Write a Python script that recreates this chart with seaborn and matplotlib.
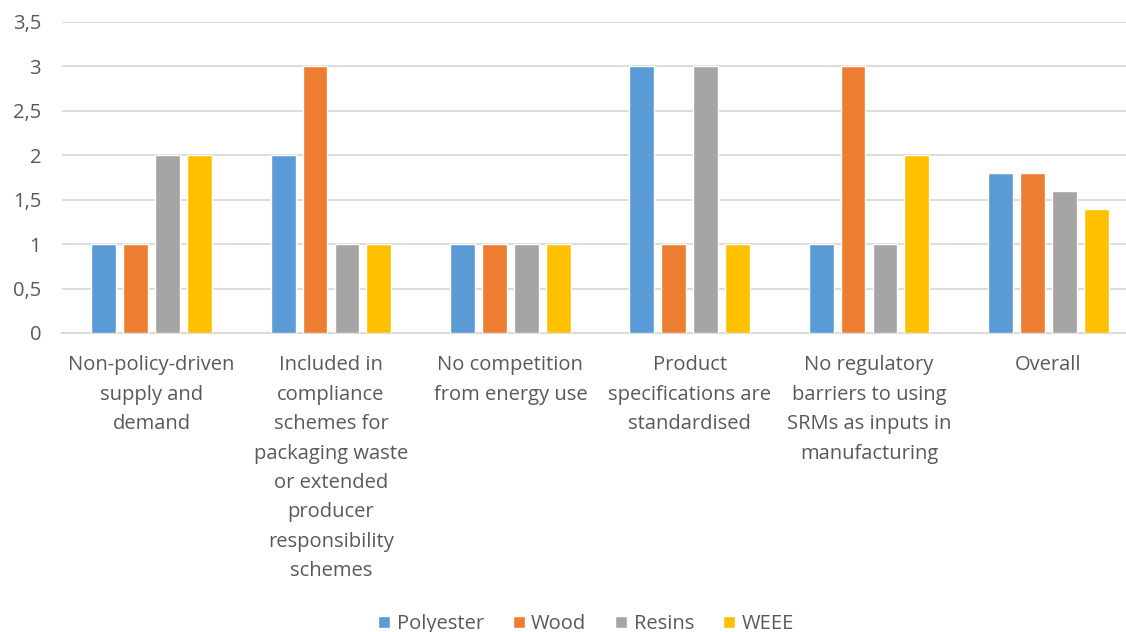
import matplotlib
matplotlib.use("Agg")
import matplotlib.pyplot as plt
import seaborn as sns
import pandas as pd

categories = [
    "Non-policy-driven\nsupply and\ndemand",
    "Included in\ncompliance\nschemes for\npackaging waste\nor extended\nproducer\nresponsibility\nschemes",
    "No competition\nfrom energy use",
    "Product\nspecifications are\nstandardised",
    "No regulatory\nbarriers to using\nSRMs as inputs in\nmanufacturing",
    "Overall",
]
series = ["Polyester", "Wood", "Resins", "WEEE"]
polyester = [1, 2, 1, 3, 1, 1.8]
wood = [1, 3, 1, 1, 3, 1.8]
resins = [2, 1, 1, 3, 1, 1.6]
weee = [2, 1, 1, 1, 2, 1.4]
y_ticks = [0, 0.5, 1, 1.5, 2, 2.5, 3, 3.5]

colors = ["#5B9BD5", "#ED7D31", "#A5A5A5", "#FFC000"]
text_color = "#595959"
grid_color = "#D9D9D9"

rows = []
for name, vals in zip(series, [polyester, wood, resins, weee]):
    for cat, v in zip(categories, vals):
        rows.append({"category": cat, "series": name, "value": v})
df = pd.DataFrame(rows)

sns.set_theme(style="white")
plt.rcParams["font.family"] = ["Open Sans", "DejaVu Sans"]

fig = plt.figure(figsize=(11.26, 6.32), dpi=100)
ax = fig.add_axes([62 / 1126, 1 - 333 / 632, 1076 / 1126, 311 / 632])

sns.barplot(
    data=df, x="category", y="value", hue="series",
    order=categories, hue_order=series, palette=colors,
    width=0.712, gap=0.22, saturation=1, errorbar=None, ax=ax, zorder=3,
)

ax.set_xlim(-0.5, len(categories) - 0.5)
ax.set_ylim(0, 3.5)
ax.set_yticks(y_ticks)
ax.set_yticklabels([f"{t:g}".replace(".", ",") for t in y_ticks])
ax.yaxis.grid(True, color=grid_color, linewidth=1.3, zorder=0)
ax.set_axisbelow(True)
for side in ["top", "right", "left"]:
    ax.spines[side].set_visible(False)
ax.spines["bottom"].set_color(grid_color)
ax.spines["bottom"].set_linewidth(1.3)
ax.set_xlabel("")
ax.set_ylabel("")
ax.tick_params(axis="both", length=0, labelsize=14.5, colors=text_color)
ax.tick_params(axis="y", pad=15)
ax.tick_params(axis="x", pad=16)
for lbl in ax.get_xticklabels():
    lbl.set_linespacing(1.63)

leg = ax.legend(
    loc="center", bbox_to_anchor=(524 / 1076, -(624 - 333) / 311),
    ncol=4, frameon=False, fontsize=14.5, handlelength=0.6, handleheight=0.6,
    handletextpad=0.3, columnspacing=1.45,
)
for t in leg.get_texts():
    t.set_color(text_color)

fig.savefig("out.png", dpi=100)
